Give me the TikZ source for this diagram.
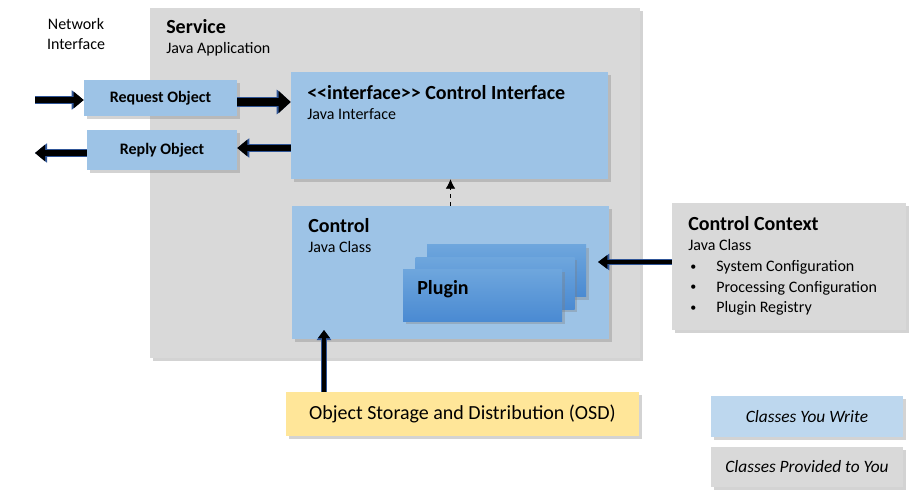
\documentclass[tikz,border=0pt]{standalone}
\usepackage{fontspec}
\setmainfont{Carlito}
\usetikzlibrary{arrows.meta,shadows}
\definecolor{grayclass}{HTML}{D9D9D9}
\definecolor{blueclass}{HTML}{9DC3E6}
\definecolor{bluelegend}{HTML}{BDD7EE}
\definecolor{plugtop}{HTML}{6EA6DD}
\definecolor{plugbot}{HTML}{4A8AD2}
\definecolor{osdyellow}{HTML}{FFE699}
\definecolor{arrowrim}{HTML}{2F5597}

\begin{document}
\begin{tikzpicture}[x=0.75pt, y=-0.75pt,
  shd/.style={drop shadow={shadow xshift=2pt, shadow yshift=-2pt, opacity=0.35}},
  provided/.style={fill=grayclass, shd, inner sep=0pt},
  yours/.style={fill=blueclass, shd, inner sep=0pt},
  plug/.style={top color=plugtop, bottom color=plugbot, shd, minimum width=119.25pt, minimum height=39pt},
  ttl/.style={anchor=base west, font=\fontsize{15}{18}\selectfont\bfseries, inner sep=0pt},
  sub/.style={anchor=base west, font=\fontsize{12}{14}\selectfont, inner sep=0pt},
  dot/.style={anchor=base west, font=\fontsize{9}{11}\selectfont, inner sep=0pt},
  msg/.style={yours, font=\fontsize{12}{14}\selectfont\bfseries},
  legend/.style={inner sep=0pt, shd, minimum width=144pt, font=\fontsize{13}{15}\selectfont\itshape},
  fat/.style n args={3}{line width=#1, draw=black, -{Triangle[width=#2, length=#3]},
    preaction={draw=arrowrim, line width=#1+1.5pt, -{Triangle[width=#2+2pt, length=#3+1.5pt]}}}]
  \useasboundingbox (0,0) rectangle (910,502);
  % service container
  \node[provided, minimum width=367.5pt, minimum height=262.5pt] (svc) at (395,183) {};
  \node[ttl] (svct) at (166,34) {Service};
  \node[sub] (svcs) at (166,54) {Java Application};
  \node[align=center, font=\fontsize{12}{15}\selectfont] (netif) at (76,34) {Network\\Interface};
  % messages
  \node[msg, minimum width=114.75pt, minimum height=27pt] (req) at (160.5,98) {Request Object};
  \node[msg, minimum width=112.5pt, minimum height=30pt] (rep) at (162,150) {Reply Object};
  % control interface and control
  \node[yours, minimum width=237.75pt, minimum height=80.25pt] (ci) at (449.5,125.5) {};
  \node[ttl] (cit) at (307,100) {<{}<interface>{}> Control Interface};
  \node[sub] (cis) at (307,120) {Java Interface};
  \node[yours, minimum width=237.75pt, minimum height=99.75pt] (ctl) at (450.5,272.5) {};
  \node[ttl] (ctlt) at (308,233) {Control};
  \node[sub] (ctls) at (308,253) {Java Class};
  % plugin stack
  \node[plug] (plugc) at (506.5,271) {};
  \node[plug] (plugb) at (495,283.5) {};
  \node[plug] (pluga) at (482.5,295.5) {};
  \node[ttl] (plugt) at (417,295) {Plugin};
  % control context
  \node[provided, minimum width=175.5pt, minimum height=95.25pt] (ctx) at (789,266.5) {};
  \node[ttl] (ctxt) at (688,231) {Control Context};
  \node[sub] (ctxs) at (688,251) {Java Class};
  \node[dot] (b1) at (690,271) {\textbullet};
  \node[sub] (cfg1) at (716,272) {System Configuration};
  \node[dot] (b2) at (690,291) {\textbullet};
  \node[sub] (cfg2) at (716,292) {Processing Configuration};
  \node[dot] (b3) at (690,311) {\textbullet};
  \node[sub] (cfg3) at (716,312) {Plugin Registry};
  % storage
  \node[fill=osdyellow, shd, inner sep=0pt, minimum width=264.75pt, minimum height=33pt,
    font=\fontsize{15}{18}\selectfont] (osd) at (462.5,414) {Object Storage and Distribution (OSD)};
  % legend
  \node[legend, fill=bluelegend, minimum height=30.75pt] (lw) at (807,416.5) {Classes You Write};
  \node[legend, fill=grayclass, minimum height=30pt] (lp) at (807,467) {Classes Provided to You};
  % connectors
  \coordinate (netin) at (35,100);
  \coordinate (netout) at (35,153);
  \coordinate (ctxend) at (598,262);
  \coordinate (osdend) at (324,330);
  \draw[fat={4.5pt}{12pt}{7.5pt}] (netin) -- (netin -| req.west);
  \draw[fat={6pt}{16pt}{9pt}] (req.east |- 0,102) -- (ci.west |- 0,102);
  \draw[fat={4.5pt}{12pt}{7.5pt}] (ci.west |- 0,148) -- (req.east |- 0,148);
  \draw[fat={4pt}{12pt}{7.5pt}] (rep.west |- netout) -- (netout);
  \draw[fat={3pt}{10pt}{7pt}] (ctx.west |- ctxend) -- (ctxend);
  \draw[fat={2.5pt}{8.5pt}{6pt}] (osd.north -| osdend) -- (osdend);
  \draw[dashed, -{Latex[length=7pt, width=7pt]}] (ctl.north) -- (ctl.north |- ci.south);
\end{tikzpicture}
\end{document}
